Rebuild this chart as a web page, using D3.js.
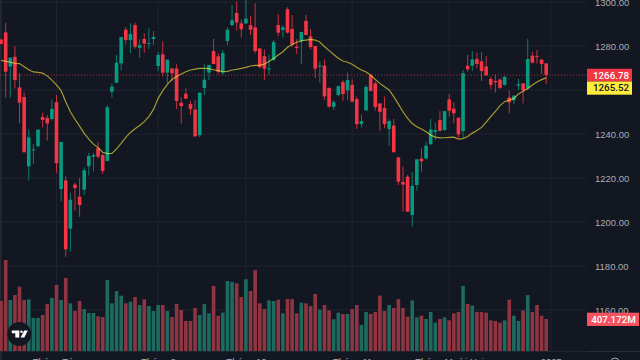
<!DOCTYPE html>
<html>
<head>
<meta charset="utf-8">
<script src="https://cdnjs.cloudflare.com/ajax/libs/d3/7.8.5/d3.min.js"></script>
<style>
  html, body { margin: 0; padding: 0; background: #131722; overflow: hidden; }
  svg { display: block; }
</style>
</head>
<body>
<div id="chart"></div>
<script>
const opens = [1283.0,1286.2,1270.7,1275.1,1261.2,1256.8,1225.3,1232.7,1234.5,1247.7,
  1247.3,1246.8,1254.5,1215.0,1218.9,1197.0,1217.0,1211.5,1214.7,1225.4,
  1229.7,1233.6,1230.4,1227.7,1259.2,1263.3,1272.1,1287.4,1282.7,1289.5,
  1279.2,1283.2,1281.1,1283.2,1270.9,1276.2,1267.9,1269.8,1269.8,1254.2,
  1258.3,1253.6,1251.1,1239.5,1260.9,1267.9,1277.7,1275.3,1267.9,1282.3,
  1289.5,1295.0,1290.3,1290.3,1289.5,1288.5,1278.9,1275.4,1269.4,1273.6,
  1289.5,1287.3,1296.7,1287.7,1279.7,1282.0,1291.4,1284.4,1280.0,1270.6,
  1271.1,1260.9,1252.4,1257.7,1263.6,1259.8,1262.3,1255.9,1244.5,1250.7,
  1266.7,1263.0,1253.9,1251.8,1242.3,1243.8,1229.4,1218.2,1220.6,1203.2,
  1216.8,1228.8,1228.9,1235.3,1241.0,1246.3,1241.8,1255.7,1251.5,1247.4,
  1241.3,1271.0,1271.0,1274.1,1273.0,1270.7,1265.0,1264.1,1264.7,1262.3,
  1256.6,1255.3,1262.0,1263.0,1260.7,1275.6,1275.4,1273.8,1272.1];
const highs = [1283.0,1290.6,1274.7,1280.0,1267.6,1258.8,1242.1,1235.4,1242.0,1249.7,
  1248.6,1255.7,1257.7,1236.4,1220.9,1213.3,1217.9,1220.0,1224.8,1231.5,
  1231.5,1236.4,1231.2,1253.2,1263.0,1275.9,1284.1,1288.5,1290.3,1290.6,
  1283.0,1285.7,1288.0,1286.8,1277.3,1282.1,1273.8,1269.8,1271.7,1256.7,
  1260.7,1255.1,1255.4,1258.8,1271.7,1271.4,1283.2,1276.7,1278.2,1288.5,
  1298.6,1300.4,1292.1,1301.5,1293.6,1299.4,1278.9,1278.5,1275.9,1282.7,
  1294.5,1289.5,1297.6,1294.1,1283.2,1286.4,1294.1,1287.7,1280.0,1273.2,
  1273.9,1261.2,1255.4,1262.0,1264.5,1267.9,1264.8,1257.0,1248.9,1262.3,
  1267.1,1263.8,1253.9,1257.0,1246.7,1246.8,1229.4,1225.1,1221.4,1222.6,
  1228.5,1233.5,1236.5,1246.8,1245.1,1250.4,1250.4,1258.2,1254.4,1247.4,
  1269.1,1275.9,1277.7,1277.1,1277.1,1275.4,1266.0,1267.1,1265.3,1266.3,
  1259.8,1257.7,1265.0,1263.0,1283.2,1277.4,1278.2,1274.1,1272.1];
const lows = [1280.9,1256.5,1256.5,1260.7,1244.8,1231.7,1218.8,1226.4,1233.8,1243.0,
  1237.0,1246.1,1222.4,1209.5,1184.2,1186.5,1205.1,1202.4,1212.3,1221.1,
  1222.9,1228.8,1221.8,1227.7,1256.5,1263.3,1268.9,1280.6,1276.7,1278.8,
  1274.7,1277.0,1278.6,1280.4,1268.6,1266.1,1263.0,1263.8,1251.4,1244.8,
  1255.9,1248.6,1238.9,1238.5,1257.7,1264.5,1271.8,1267.3,1266.8,1280.4,
  1289.1,1287.0,1283.9,1290.0,1285.0,1276.7,1269.8,1264.5,1266.8,1273.2,
  1284.5,1283.8,1285.7,1279.7,1276.4,1271.8,1285.0,1278.5,1265.4,1263.3,
  1255.4,1252.1,1250.9,1257.4,1255.1,1255.4,1254.4,1242.3,1242.9,1250.7,
  1259.5,1250.7,1241.4,1242.6,1234.5,1231.7,1216.8,1204.7,1204.7,1197.9,
  1214.2,1222.9,1228.2,1235.3,1237.3,1241.0,1241.3,1247.9,1244.8,1238.3,
  1238.3,1268.3,1268.6,1269.8,1264.1,1266.5,1260.4,1258.8,1260.4,1262.0,
  1249.4,1253.6,1260.0,1253.9,1260.0,1272.1,1272.1,1267.3,1262.7];
const closes = [1280.9,1268.3,1274.7,1264.5,1254.2,1231.7,1238.5,1233.0,1242.0,1246.4,
  1244.8,1251.4,1226.7,1236.4,1187.6,1210.1,1215.4,1207.7,1223.5,1230.0,
  1230.4,1229.7,1223.2,1252.1,1261.5,1272.4,1284.1,1282.7,1285.4,1279.7,
  1280.4,1281.1,1281.4,1284.1,1275.9,1267.9,1273.8,1267.6,1255.0,1252.7,
  1256.1,1251.4,1238.9,1258.8,1264.7,1271.4,1271.8,1268.3,1276.8,1287.4,
  1291.7,1290.7,1287.6,1292.4,1287.4,1277.7,1270.4,1269.7,1269.8,1281.8,
  1286.1,1288.5,1286.1,1280.7,1279.1,1286.4,1285.0,1279.5,1269.7,1271.1,
  1257.1,1252.4,1254.5,1261.7,1258.2,1264.5,1254.7,1244.5,1245.9,1261.4,
  1259.5,1252.3,1250.1,1244.5,1245.9,1231.7,1218.3,1217.0,1204.7,1216.4,
  1228.5,1227.6,1234.7,1242.1,1241.8,1241.5,1250.4,1250.6,1249.4,1239.8,
  1267.6,1269.4,1273.9,1271.8,1268.6,1266.6,1262.3,1263.5,1261.0,1266.0,
  1254.4,1257.4,1262.6,1259.8,1274.1,1272.4,1275.0,1271.8,1266.78];
// volume in millions
const volumes = [636,1158,649,712,818,649,657,420,420,458,598,674,840,649,929,606,509,636,534,483,
  483,441,432,903,606,763,704,606,628,687,585,657,572,509,585,585,509,432,598,522,
  382,382,547,458,598,479,827,449,488,890,878,861,687,912,763,1030,606,534,644,636,
  653,479,661,661,479,615,606,572,725,526,585,517,403,488,471,471,534,585,331,496,
  471,496,704,509,585,547,661,547,437,644,428,449,407,496,360,407,428,390,479,496,
  827,598,577,496,496,488,390,382,360,390,653,449,382,517,712,496,585,449,407.172];
const maValues = [1273.5,1273.0,1272.7,1272.1,1272.0,1270.6,1269.2,1268.2,1268.0,1267.7,
  1266.4,1264.5,1262.3,1259.7,1254.7,1250.1,1246.7,1243.6,1240.3,1237.7,
  1235.4,1233.8,1231.7,1231.1,1231.2,1233.2,1235.7,1238.5,1240.7,1242.4,
  1243.9,1245.6,1247.9,1251.2,1256.2,1259.7,1262.6,1264.8,1266.1,1267.3,
  1268.3,1269.1,1269.5,1269.8,1269.8,1269.7,1269.2,1268.8,1268.3,1268.5,
  1269.1,1269.4,1269.8,1270.3,1270.9,1271.2,1271.2,1271.8,1273.0,1274.4,
  1275.9,1277.4,1279.4,1280.7,1281.7,1282.4,1282.7,1283.0,1282.7,1281.8,
  1279.8,1277.9,1276.1,1274.4,1273.2,1272.6,1271.7,1270.3,1269.1,1268.2,
  1266.8,1264.8,1263.0,1261.5,1260.0,1257.0,1253.6,1250.1,1247.1,1244.8,
  1243.3,1242.3,1241.0,1239.5,1238.6,1238.2,1238.3,1238.5,1238.6,1237.7,
  1237.9,1238.9,1240.4,1241.6,1243.0,1245.4,1247.9,1250.3,1252.9,1254.7,
  1255.4,1256.2,1258.2,1259.4,1260.7,1262.3,1263.6,1264.7,1265.52];

const priceTicks = [1300, 1280, 1260, 1240, 1220, 1200, 1180, 1160];
const monthStarts = [12, 34, 53, 76, 97, 119];
const monthLabels = ["Tháng Tám", "Tháng 9", "Tháng 10", "Tháng 11", "Tháng Mười Hai", "2025"];
const lastClose = 1266.78;
const lastMa = 1265.52;
const lastVolume = "407.172M";

const width = 640;
const height = 360;
const paneWidth = 587;
const volumeBase = 351;

const svg = d3.select("#chart").append("svg").attr("width", width).attr("height", height);

svg.append("rect").attr("width", width).attr("height", height).attr("fill", "#131722");

const xScale = d3.scaleLinear().domain([0, 119]).range([1.05, 550.83]);
const yScale = d3.scaleLinear().domain([1160, 1300]).range([310, 2]);
const volScale = d3.scaleLinear().domain([0, 1200]).range([volumeBase, volumeBase - 1200 / 12.72]);

const upColor = "#089981";
const downColor = "#f23645";
const bodyWidth = 3.6;

// grid first, everything else sits on it
const gridColor = "#1f2430";
svg.append("g").selectAll("line").data(priceTicks).join("line")
  .attr("x1", 0).attr("x2", paneWidth)
  .attr("y1", (d) => yScale(d)).attr("y2", (d) => yScale(d))
  .attr("stroke", gridColor);
svg.append("g").selectAll("line").data(monthStarts).join("line")
  .attr("x1", (d) => xScale(d)).attr("x2", (d) => xScale(d))
  .attr("y1", 0).attr("y2", volumeBase)
  .attr("stroke", gridColor);

// pane edges
svg.append("rect").attr("x", 0).attr("y", 0).attr("width", 1.5).attr("height", height).attr("fill", "#262a35");
svg.append("line").attr("x1", 0).attr("x2", paneWidth).attr("y1", 351.5).attr("y2", 351.5).attr("stroke", "#1f2430");
svg.append("line").attr("x1", paneWidth).attr("x2", width).attr("y1", 351.5).attr("y2", 351.5).attr("stroke", "#2a2e39");

const idx = d3.range(opens.length);
const isUp = (i) => closes[i] >= opens[i];

// volume
svg.append("g").selectAll("rect").data(idx).join("rect")
  .attr("x", (i) => xScale(i) - bodyWidth / 2)
  .attr("width", bodyWidth)
  .attr("y", (i) => volScale(volumes[i]))
  .attr("height", (i) => volumeBase - volScale(volumes[i]))
  .attr("fill", (i) => (isUp(i) ? "#1d6b5e" : "#8f3542"));

// wicks then bodies
svg.append("g").selectAll("line").data(idx).join("line")
  .attr("x1", (i) => xScale(i)).attr("x2", (i) => xScale(i))
  .attr("y1", (i) => yScale(highs[i])).attr("y2", (i) => yScale(lows[i]))
  .attr("stroke", (i) => (isUp(i) ? upColor : downColor))
  .attr("stroke-opacity", 0.8)
  .attr("stroke-width", 1);
svg.append("g").selectAll("rect").data(idx).join("rect")
  .attr("x", (i) => xScale(i) - bodyWidth / 2)
  .attr("width", bodyWidth)
  .attr("y", (i) => yScale(Math.max(opens[i], closes[i])))
  .attr("height", (i) => Math.max(1, Math.abs(yScale(opens[i]) - yScale(closes[i]))))
  .attr("fill", (i) => (isUp(i) ? upColor : downColor));

// moving average
const maLine = d3.line().x((d, i) => xScale(i)).y((d) => yScale(d));
svg.append("path").datum(maValues)
  .attr("fill", "none")
  .attr("stroke", "#ffeb3b")
  .attr("stroke-opacity", 0.62)
  .attr("stroke-width", 1.2)
  .attr("d", maLine);

// last price line
svg.append("line")
  .attr("x1", 0).attr("x2", paneWidth)
  .attr("y1", yScale(lastClose)).attr("y2", yScale(lastClose))
  .attr("stroke", downColor)
  .attr("stroke-opacity", 0.7)
  .attr("stroke-dasharray", "1 2");

const axisFont = "'Liberation Sans', sans-serif";

// price axis
const yAxis = d3.axisRight(yScale).tickValues(priceTicks).tickSize(0).tickPadding(0)
  .tickFormat((d) => d.toFixed(2));
const yAxisG = svg.append("g").attr("transform", "translate(595,0)").call(yAxis);
yAxisG.select(".domain").remove();
yAxisG.selectAll("text")
  .attr("fill", "#a9acb5")
  .attr("font-family", axisFont)
  .attr("font-size", 9.5);

// time axis, cut off by the bottom of the frame
const xAxis = d3.axisBottom(xScale).tickValues(monthStarts).tickSize(0).tickPadding(0)
  .tickFormat((d, i) => monthLabels[i]);
const xAxisG = svg.append("g").attr("transform", "translate(0,351)").call(xAxis);
xAxisG.select(".domain").remove();
xAxisG.selectAll("text")
  .attr("y", 7.5)
  .attr("fill", "#a9acb5")
  .attr("font-family", axisFont)
  .attr("font-size", 9.5);

// gear icon, mostly below the frame
svg.append("circle").attr("cx", 615).attr("cy", 362).attr("r", 4)
  .attr("fill", "none").attr("stroke", "#a9acb5").attr("stroke-width", 1);

// value tags
function tag(y, w, h, fill, textFill, label, textX) {
  svg.append("rect").attr("x", 587).attr("y", y).attr("width", w).attr("height", h).attr("fill", fill);
  svg.append("text").attr("x", textX).attr("y", y + h / 2 + 3.4)
    .attr("text-anchor", "middle")
    .attr("fill", textFill)
    .attr("font-family", "Roboto, sans-serif")
    .attr("font-size", 9.8)
    .attr("font-weight", 500)
    .text(label);
}
tag(yScale(lastClose) - 6.3, 45, 12.7, "#f23645", "#ffffff", lastClose.toFixed(2), 611);
tag(yScale(lastClose) + 6.4, 45, 13.2, "#ffeb3b", "#131722", lastMa.toFixed(2), 611);
tag(volScale(407.172) - 6.3, 52, 13.3, "#f7525f", "#ffffff", lastVolume, 613.5);

// logo
const logo = svg.append("g").attr("transform", "translate(19.3,334)");
logo.append("circle").attr("r", 12).attr("fill", "#131722");
logo.append("path").attr("fill", "#ffffff")
  .attr("d", "M-7.5,-3.5H0V3.5H-4V-0.8H-7.5Z M4.9,-3.5H8.5L5,3.6H1.3Z");
logo.append("circle").attr("cx", 2.2).attr("cy", -2.3).attr("r", 1.25).attr("fill", "#ffffff");
</script>
</body>
</html>
